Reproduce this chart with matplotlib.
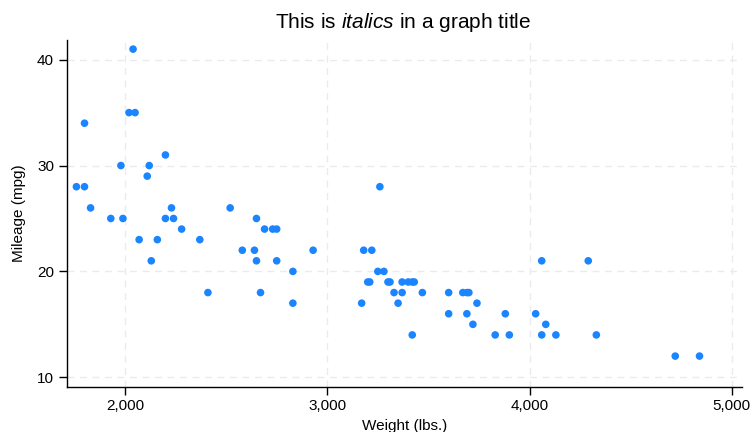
import matplotlib
matplotlib.use("Agg")
import matplotlib.pyplot as plt

plt.rcParams['font.family'] = ['Liberation Sans', 'DejaVu Sans']
plt.rcParams['mathtext.fontset'] = 'custom'
plt.rcParams['mathtext.rm'] = 'Liberation Sans'
plt.rcParams['mathtext.it'] = 'Liberation Sans:italic'
plt.rcParams['mathtext.bf'] = 'Liberation Sans:bold'

weight = [2930, 3350, 2640, 3250, 4080, 3670, 2230, 3280, 3880, 3400,
          4330, 3900, 4290, 2110, 3690, 3180, 3220, 2750, 3430, 2120,
          3600, 3600, 3740, 1800, 2650, 4840, 4720, 3830, 2580, 4060,
          3720, 3370, 4130, 2830, 4060, 3310, 3300, 3690, 3370, 2730,
          4030, 3260, 1800, 2200, 2520, 3330, 3700, 3470, 3210, 3200,
          3420, 2690, 2830, 2070, 2650, 2370, 2020, 2280, 2750, 2130,
          2240, 1760, 1980, 3420, 1830, 2050, 2410, 2200, 2670, 2160,
          2040, 1930, 1990, 3170]
mpg = [22, 17, 22, 20, 15, 18, 26, 20, 16, 19,
       14, 14, 21, 29, 16, 22, 22, 24, 19, 30,
       18, 16, 17, 28, 21, 12, 12, 14, 22, 14,
       15, 18, 14, 20, 21, 19, 19, 18, 19, 24,
       16, 28, 34, 25, 26, 18, 18, 18, 19, 19,
       19, 24, 17, 23, 25, 23, 35, 24, 21, 21,
       25, 28, 30, 14, 26, 35, 18, 31, 18, 23,
       41, 25, 25, 17]

xticks = [2000, 3000, 4000, 5000]
xticklabels = ["2,000", "3,000", "4,000", "5,000"]
yticks = [10, 20, 30, 40]

fig = plt.figure(figsize=(7.53, 4.32), dpi=100)
ax = fig.add_axes([66.5/753, 1-387/432, (742-66.5)/753, (387-40)/432])

ax.scatter(weight, mpg, s=30, color='#1a85ff', edgecolors='none', zorder=3)

ax.set_xlim(1711, 5050)
ax.set_ylim(9.08, 41.86)
ax.set_xticks(xticks)
ax.set_xticklabels(xticklabels)
ax.set_yticks(yticks)
ax.grid(True, color='#ebebeb', linestyle=(0, (5, 4)), linewidth=1.0, zorder=0)

for s in ['top', 'right']:
    ax.spines[s].set_visible(False)
for s in ['left', 'bottom']:
    ax.spines[s].set_linewidth(1.0)
    ax.spines[s].set_color('#000000')
ax.tick_params(axis='both', length=6, width=1.0, labelsize=11, pad=3, colors='black')

ax.set_xlabel("Weight (lbs.)", fontsize=11, labelpad=4)
ax.set_ylabel("Mileage (mpg)", fontsize=11, labelpad=8)
fig.text(0.535, 1-22/432, r"This is $\mathit{italics}$ in a graph title", ha='center', va='center', fontsize=15)

fig.savefig("out.png", dpi=100)
